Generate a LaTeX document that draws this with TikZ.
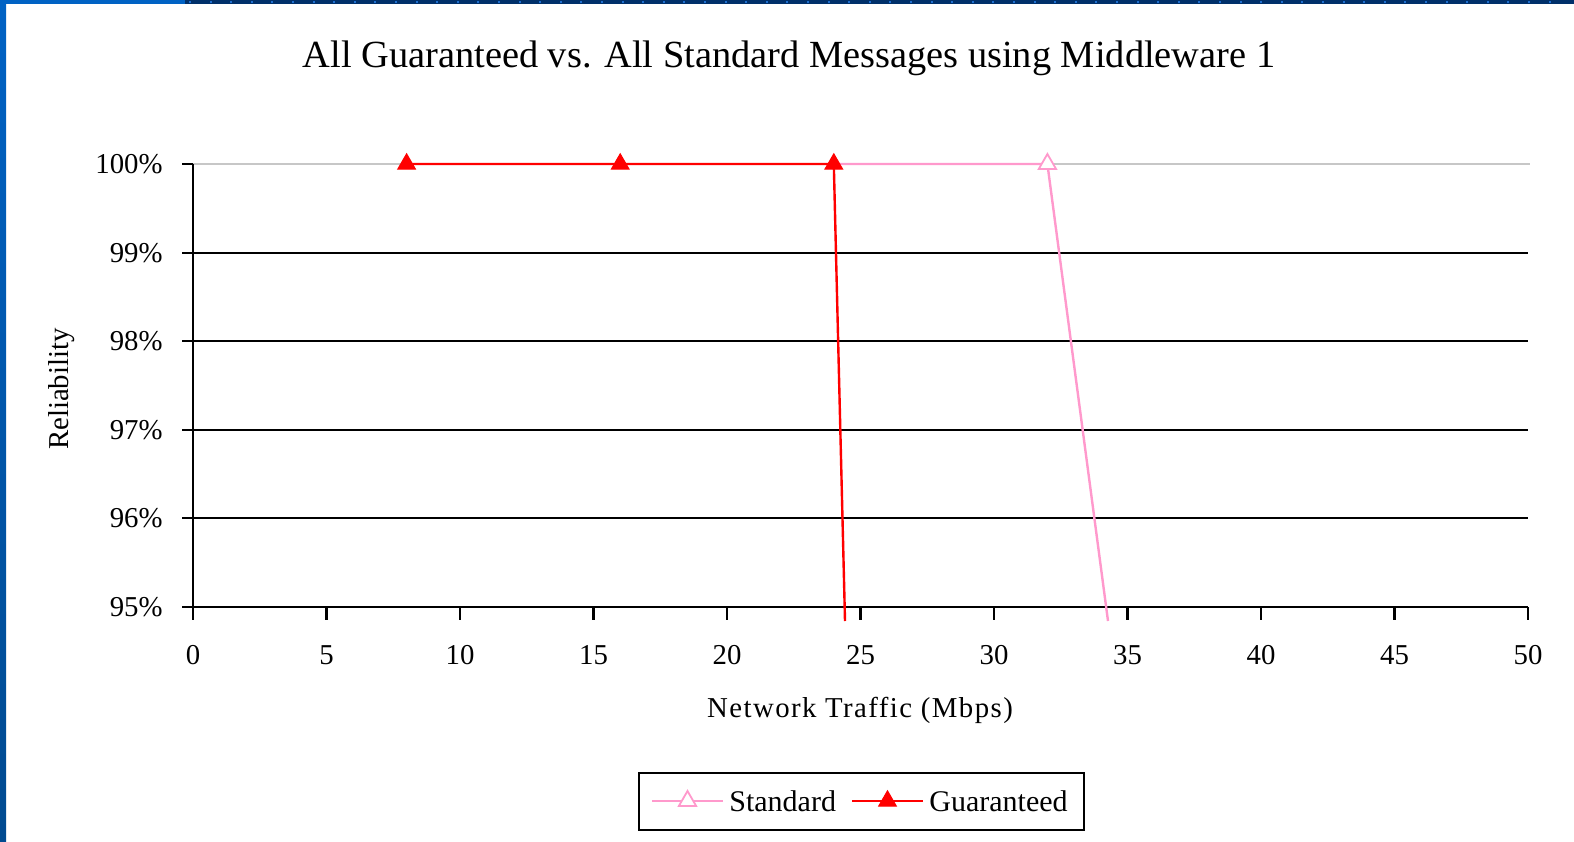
\documentclass[tikz,border=0pt]{standalone}
\usepackage{fontspec}
\setmainfont{Liberation Serif}
\usetikzlibrary{positioning, shapes.geometric}
\usetikzlibrary{calc}

\definecolor{stdpink}{HTML}{FF99CC}
\definecolor{guared}{HTML}{FF0000}
\definecolor{barblue}{HTML}{0062C4}
\definecolor{barblue2}{HTML}{004A90}
\definecolor{barnavy}{HTML}{00306A}
\definecolor{dotblue}{HTML}{1E6FD0}

\tikzset{
    lbl/.style={font=\fontsize{14.4}{16}\selectfont, inner sep=0pt},
    leglbl/.style={font=\fontsize{15}{17}\selectfont, inner sep=0pt},
    gridline/.style={line width=1.3pt, black},
    stdline/.style={line width=1.2pt, stdpink},
    gualine/.style={line width=1.2pt, guared},
    stdmark/.style={regular polygon, regular polygon sides=3, draw=stdpink, fill=white,
        line width=0.9pt, minimum size=10pt, inner sep=0pt},
    guamark/.style={regular polygon, regular polygon sides=3, draw=guared, fill=guared,
        line width=0.6pt, minimum size=10pt, inner sep=0pt}
}

\begin{document}
\begin{tikzpicture}[x=0.5pt, y=-0.5pt]
    \useasboundingbox (0,0) rectangle (1574,841);
    % Define frame bars
    \fill[barnavy] (0,0) rectangle (1574,4);
    \fill[barblue] (0,0) rectangle (185,4);
    \foreach \k in {0,...,66}
        \fill[dotblue] ({190+20.6*\k-1},1) rectangle ++(2,2);
    \shade[top color=barblue, bottom color=barblue2] (0,0) rectangle (6,841);

    % Define title and axis labels
    \node[font=\fontsize{19.2}{22}\selectfont] (title) at (789,58)
        {All Guaranteed vs. All Standard Messages using Middleware 1};
    \node[lbl, rotate=90] (ylab) at (62,389) {Reliability};
    \node[lbl, font=\fontsize{14.4}{16}\selectfont\addfontfeature{LetterSpace=5}]
        (xlab) at (860,710) {Network Traffic (Mbps)};

    % Define grid and axes
    \draw[line width=1pt, black!22] (193,164) -- (1530,164);
    \foreach \p/\y in {99/253, 98/341, 97/430, 96/518}
        \draw[gridline] (193,\y) -- (1528,\y);
    \foreach \p/\y in {100/164, 99/253, 98/341, 97/430, 96/518, 95/607} {
        \draw[gridline] (182,\y) -- (193,\y);
        \node[lbl, anchor=east] (yl\p) at (163,\y) {\p\%};
    }
    \draw[gridline] (193,164) -- (193,620);
    \draw[gridline] (193,607) -- (1528,607);
    \foreach \v in {5,10,...,50}
        \draw[gridline] ({193+26.7*\v},607) -- ++(0,13);
    \foreach \v in {0,5,...,50}
        \node[lbl] (xl\v) at ({193+26.7*\v},655) {\v};

    % Define data points
    \coordinate (g1) at ({193+26.7*8},164);
    \coordinate (g2) at ({193+26.7*16},164);
    \coordinate (g3) at ({193+26.7*24},164);
    \coordinate (gend) at (845,621);
    \coordinate (s1) at ({193+26.7*32},164);
    \coordinate (send) at (1108,621);

    % Define series
    \draw[stdline] (g3) -- (s1) -- (send);
    \draw[gualine] (g1) -- (g2) -- (g3) -- (gend);
    \node[stdmark] (sm1) at (s1) {};
    \foreach \i in {1,2,3}
        \node[guamark] (gm\i) at (g\i) {};

    % Define legend
    \node[draw, line width=1.2pt, minimum width=222.5pt, minimum height=28.5pt,
        inner sep=0pt] (legend) at (861.5,801.5) {};
    \coordinate (la) at (652,801);
    \coordinate (lb) at (723,801);
    \coordinate (lc) at (852,801);
    \coordinate (ld) at (923,801);
    \draw[stdline] (la) -- (lb);
    \node[stdmark] (lsm) at ($(la)!0.5!(lb)$) {};
    \node[leglbl, anchor=west] (lstd) at (729,801) {Standard};
    \draw[gualine] (lc) -- (ld);
    \node[guamark] (lgm) at ($(lc)!0.5!(ld)$) {};
    \node[leglbl, anchor=west] (lgua) at (929,801) {Guaranteed};
\end{tikzpicture}
\end{document}
